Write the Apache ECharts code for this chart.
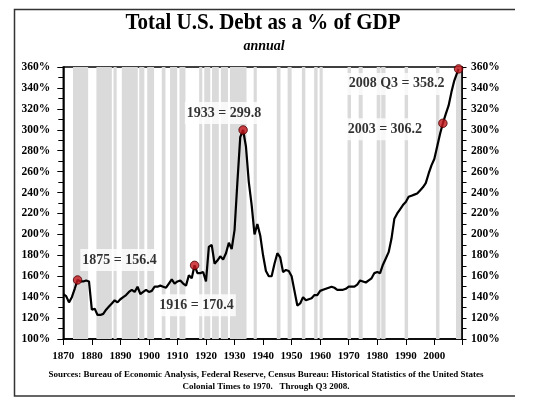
<!DOCTYPE html>
<html><head><meta charset="utf-8">
<script src="https://cdn.jsdelivr.net/npm/echarts@6/dist/echarts.min.js"></script>
<style>html,body{margin:0;padding:0;background:#fff}#c{width:538px;height:414px}</style>
</head><body><div id="c"></div>
<script>
// ---- data ----
const years = [
  1870,1871,1872,1873,1874,1875,1876,1877,1878,1879,
  1880,1881,1882,1883,1884,1885,1886,1887,1888,1889,
  1890,1891,1892,1893,1894,1895,1896,1897,1898,1899,
  1900,1901,1902,1903,1904,1905,1906,1907,1908,1909,
  1910,1911,1912,1913,1914,1915,1916,1917,1918,1919,
  1920,1921,1922,1923,1924,1925,1926,1927,1928,1929,
  1930,1931,1932,1933,1934,1935,1936,1937,1938,1939,
  1940,1941,1942,1943,1944,1945,1946,1947,1948,1949,
  1950,1951,1952,1953,1954,1955,1956,1957,1958,1959,
  1960,1961,1962,1963,1964,1965,1966,1967,1968,1969,
  1970,1971,1972,1973,1974,1975,1976,1977,1978,1979,
  1980,1981,1982,1983,1984,1985,1986,1987,1988,1989,
  1990,1991,1992,1993,1994,1995,1996,1997,1998,1999,
  2000,2001,2002,2003,2004,2005,2006,2007,2008.5
];
const debtPct = [
  143,141,135,140,148,156.4,155,155,156,155,
  128,129,123,123,124,128,131,134,137,135,
  138,140,142,145,147,145,150,143,145,147,
  145,146,150,150,151,150,149,153,157,153,
  155,156,153,151,161,158,170.4,163,163,164,
  155,188,190,172,175,179,176,182,192,186,
  204,250,293,299.8,284,250,228,200,210,199,
  180,165,160,160,172,182,178,164,166,165,
  160,146,132,134,140,137,138,139,142,142,
  146,147,148,149,150,149,147,147,147,148,
  150,150,150,152,156,155,154,156,158,163,
  164,163,171,177,183,196,215,220,224,228,
  231,236,237,238,239,242,245,249,258,266,
  272,284,296,306.2,315,323,336,347,358.2
];
// shaded periods (start / end, in years)
const bandStart = [1873.4,1881.6,1887.6,1890.5,1896.6,1899.4,1904.5,1907.4,1910.7,1917.6,1919.4,1922.1,1925.2,1928.4,1936.7,1944.8,1948.6,1953.6,1957.9,1959.8,1969.6,1973.5,1979.8,1981.4,1989.6,2000.6,2007.6];
const bandEnd   = [1878.7,1887.0,1888.7,1896.1,1898.4,1901.8,1905.8,1909.9,1912.8,1918.7,1921.5,1924.5,1927.7,1934.2,1937.8,1946.1,1950.0,1954.8,1959.1,1960.9,1970.8,1974.9,1981.1,1982.9,1990.8,2001.8,2009.4];
// highlighted points
const noteYears  = [1875, 1916, 1933, 2003, 2008.5];
const noteValues = [156.4, 170.4, 299.8, 306.2, 358.2];
const noteNames  = ['1875', '1916', '1933', '2003', '2008 Q3'];
// y-axis tick labels
const yTicks = [100,120,140,160,180,200,220,240,260,280,300,320,340,360];

// ---- layout ----
const FONT = '"Liberation Serif", "Times New Roman", serif';
const labelOffsets = [[42,-20],[2,40],[-19,-17],[-58,6],[-62,15]];

const chart = echarts.init(document.getElementById('c'), null, {renderer:'canvas'});
const yCommon = {
  type:'value', min: yTicks[0], max: yTicks[yTicks.length-1], interval: 20,
  splitLine:{show:false}, minorSplitLine:{show:false},
  axisLine:{show:true, lineStyle:{color:'#000', width:1.5}},
  minorTick:{show:true, splitNumber:2, lineStyle:{color:'#000', width:1}},
  axisLabel:{formatter:'{value}%', color:'#000', fontFamily:FONT, fontWeight:'bold', fontSize:11.5}
};
function txt(x, y, text, font, sy) {
  return {type:'text', x:x, y:y, scaleY: sy || 1, silent:true,
    style:{text:text, fill:'#000', font:font,
      textAlign:'center', textVerticalAlign:'middle', align:'center', verticalAlign:'middle'}};
}
chart.setOption({
  animation:false,
  backgroundColor:'#fff',
  grid:{left:63.3, right:76, top:67, bottom:75, show:true, borderColor:'#000', borderWidth:1.5, backgroundColor:'transparent'},
  xAxis:{
    type:'value', min:1870, max:2009.7, interval:10,
    splitLine:{show:false},
    axisLine:{lineStyle:{color:'#000', width:1.5}},
    axisTick:{inside:false, length:6, lineStyle:{color:'#000', width:1}},
    axisLabel:{margin:12, color:'#000', fontFamily:FONT, fontWeight:'bold', fontSize:11,
      formatter: v => (Math.abs(v % 10) < 1e-6 ? String(v) : '')}
  },
  yAxis:[
    Object.assign({}, yCommon, {position:'left',
      axisTick:{inside:false, length:6, lineStyle:{color:'#000', width:1}},
      minorTick:{show:true, splitNumber:2, length:5, lineStyle:{color:'#000', width:1}},
      axisLabel:Object.assign({}, yCommon.axisLabel, {margin:13})}),
    Object.assign({}, yCommon, {position:'right',
      axisTick:{inside:false, length:4.5, lineStyle:{color:'#000', width:1}},
      minorTick:{show:true, splitNumber:2, length:4.5, lineStyle:{color:'#000', width:1}},
      axisLabel:Object.assign({}, yCommon.axisLabel, {margin:9})})
  ],
  series:[
    {
      type:'custom', z:1, silent:true,
      data: bandStart.map((s,i)=>[s, bandEnd[i]]),
      encode:{x:[0,1]},
      renderItem:(params, api) => {
        const p1 = api.coord([api.value(0), yTicks[yTicks.length-1]]);
        const p2 = api.coord([api.value(1), yTicks[0]]);
        return {type:'rect', shape:{x:p1[0], y:p1[1], width:p2[0]-p1[0], height:p2[1]-p1[1]},
          style:{fill:'#dadada'}};
      }
    },
    {
      type:'line', z:3, symbol:'none', silent:true,
      data: years.map((y,i)=>[y, debtPct[i]]),
      lineStyle:{color:'#000', width:2.2}
    },
    {
      type:'scatter', z:4, symbolSize:8.5,
      itemStyle:{color:'#c4161c', borderColor:'#4a0000', borderWidth:1},
      data: noteYears.map((y,i)=>({value:[y, noteValues[i]], label:{offset:labelOffsets[i]}})),
      label:{show:true, position:'inside', color:'#000', fontFamily:FONT, fontWeight:'bold', fontSize:14,
        backgroundColor:'#fff', padding:[4,2],
        formatter: p => noteNames[p.dataIndex] + ' = ' + noteValues[p.dataIndex].toFixed(1)}
    }
  ],
  graphic:[
    {type:'polyline', silent:true, shape:{points:[[515,9.5],[14.5,9.5],[14.5,396],[515,396]]},
      style:{stroke:'#333', lineWidth:1.5, fill:null}},
    txt(263, 23.5, 'Total U.S. Debt as a % of GDP', 'bold 21px ' + FONT, 1.08),
    txt(264, 46, 'annual', 'italic bold 14px ' + FONT),
    txt(266, 375, 'Sources: Bureau of Economic Analysis, Federal Reserve, Census Bureau: Historical Statistics of the United States', 'bold 9px ' + FONT),
    txt(266, 386.5, 'Colonial Times to 1970.   Through Q3 2008.', 'bold 9px ' + FONT)
  ]
});
</script></body></html>
